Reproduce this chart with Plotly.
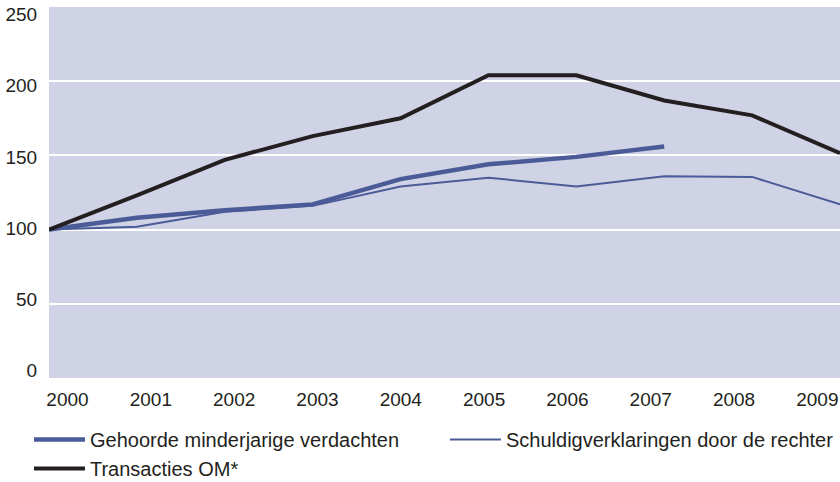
import plotly.graph_objects as go

# ---- data ----
years = [2000, 2001, 2002, 2003, 2004, 2005, 2006, 2007, 2008, 2009]
gehoorde_years = [2000, 2001, 2002, 2003, 2004, 2005, 2006, 2007]
gehoorde = [100, 108, 113, 117, 134, 144, 149, 156]
schuldig = [100, 102, 112, 116, 129, 135, 129, 136, 135.5, 117]
transacties = [100, 123, 147, 163, 175, 204, 204, 187, 177, 151.5]
year_labels = [str(y) for y in years]
y_ticks = [0, 50, 100, 150, 200, 250]
y_labels = [str(v) for v in y_ticks]

names = ["Gehoorde minderjarige verdachten",
         "Schuldigverklaringen door de rechter",
         "Transacties OM*"]

BLUE = "#4b5b98"
BLACK = "#231f20"
BG = "#d0d3e5"
TXT = "#231f20"
FONT = "Liberation Sans, Arial, sans-serif"

fig = go.Figure()
fig.add_trace(go.Scatter(x=gehoorde_years, y=gehoorde, mode="lines", name=names[0],
                         line=dict(color=BLUE, width=4.5)))
fig.add_trace(go.Scatter(x=years, y=schuldig, mode="lines", name=names[1],
                         line=dict(color=BLUE, width=2)))
fig.add_trace(go.Scatter(x=years, y=transacties, mode="lines", name=names[2],
                         line=dict(color=BLACK, width=4)))
# invisible helper trace for the label axis
fig.add_trace(go.Scatter(x=[years[0]], y=[y_ticks[0]], yaxis="y2", mode="markers",
                         marker=dict(opacity=0), showlegend=False, hoverinfo="skip"))

# label positions (labels in the reference are spread slightly off the ticks)
x_label_pos = [years[0] + 0.2105 + 0.948 * i for i in range(len(years))]
y_label_pos = [4.9 + 48.0 * i for i in range(len(y_ticks))]

fig.update_layout(
    width=840, height=482,
    margin=dict(l=49, r=0, t=7, b=104, autoexpand=False),
    paper_bgcolor="white",
    plot_bgcolor=BG,
    font=dict(family=FONT, color=TXT, size=19),
    xaxis=dict(range=[years[0], years[-1]], showgrid=False, zeroline=False,
               tickmode="array", tickvals=x_label_pos, ticktext=year_labels,
               ticks="outside", ticklen=4, tickcolor="rgba(0,0,0,0)", automargin=False,
               showline=False, tickfont=dict(size=19, color=TXT, family=FONT)),
    yaxis=dict(range=[0, 250], tickmode="array", tickvals=y_ticks,
               showticklabels=False, showgrid=True, gridcolor="white", gridwidth=2,
               zeroline=False, showline=False, ticks="", automargin=False),
    yaxis2=dict(range=[0, 250], overlaying="y", side="left", tickmode="array",
                tickvals=y_label_pos, ticktext=y_labels, showgrid=False,
                zeroline=False, showline=False, ticks="outside", ticklen=7,
                tickcolor="rgba(0,0,0,0)", automargin=False,
                tickfont=dict(size=19, color=TXT, family=FONT)),
    legend=dict(orientation="h", x=-0.0253, xanchor="left", y=-0.113, yanchor="top",
                font=dict(size=20, color=TXT, family=FONT),
                entrywidth=350, entrywidthmode="pixels", itemwidth=51,
                bgcolor="rgba(0,0,0,0)", traceorder="normal"),
    showlegend=True,
)

fig.write_html("out.html", config={"displayModeBar": False},
               post_script="document.body.style.margin='0';")
